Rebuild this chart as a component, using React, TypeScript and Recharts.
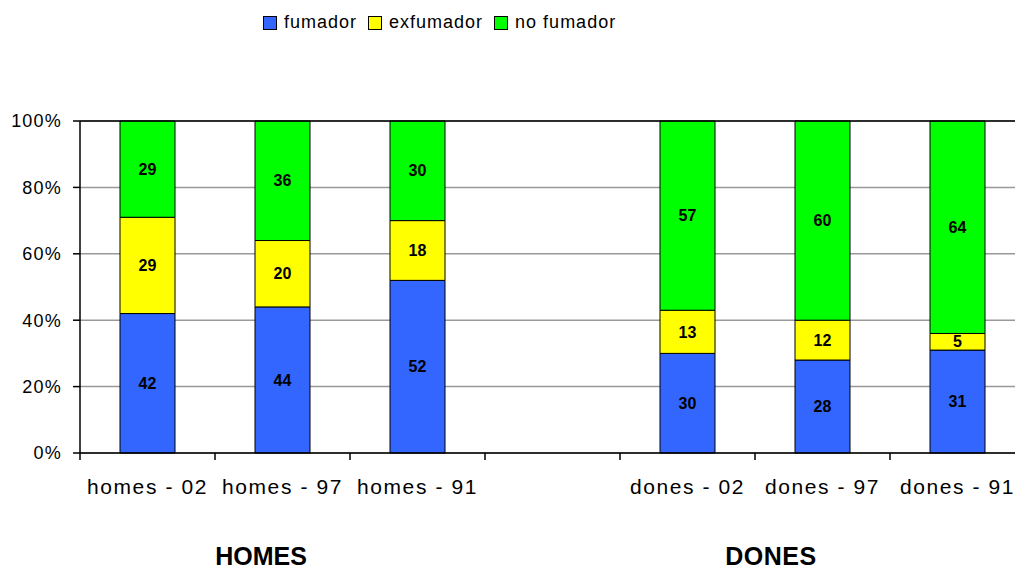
import { BarChart, Bar, XAxis, YAxis, CartesianGrid, LabelList, ReferenceLine } from "recharts";

const categories = ["homes - 02", "homes - 97", "homes - 91", "", "dones - 02", "dones - 97", "dones - 91"];
const fumador = [42, 44, 52, null, 30, 28, 31];
const exfumador = [29, 20, 18, null, 13, 12, 5];
const noFumador = [29, 36, 30, null, 57, 60, 64];
const yTicks = [0, 20, 40, 60, 80, 100];
const boundaryTicks = [0, 1, 2, 3, 4, 5, 6, 7];

const series = [
  { key: "fumador", name: "fumador", color: "#3366FF" },
  { key: "exfumador", name: "exfumador", color: "#FFFF00" },
  { key: "noFumador", name: "no fumador", color: "#00FF00" },
];

const data = categories.map((name, i) => ({
  name,
  fumador: fumador[i],
  exfumador: exfumador[i],
  noFumador: noFumador[i],
}));

const FONT = '"Liberation Sans", Arial, sans-serif';
const NARROW = '"Liberation Sans Narrow", "Arial Narrow", "Liberation Sans", sans-serif';

function TopLegend() {
  return (
    <div
      style={{
        position: "absolute",
        top: 12,
        left: 263,
        display: "flex",
        alignItems: "center",
        fontFamily: FONT,
        fontSize: 18,
        letterSpacing: 1,
        color: "#000",
        whiteSpace: "nowrap",
      }}
    >
      {series.map((s) => (
        <div key={s.key} style={{ display: "flex", alignItems: "center", marginRight: 11 }}>
          <span
            style={{
              display: "inline-block",
              width: 12,
              height: 12,
              background: s.color,
              border: "1px solid #000",
              marginRight: 7,
            }}
          />
          {s.name}
        </div>
      ))}
    </div>
  );
}

export default function App() {
  return (
    <div
      style={{
        position: "absolute",
        left: 0,
        top: 0,
        width: 1015,
        height: 571,
        overflow: "hidden",
        background: "#fff",
        fontFamily: FONT,
      }}
    >
      <TopLegend />
      <BarChart
        width={1030}
        height={571}
        data={data}
        margin={{ top: 121, right: 5, left: 0, bottom: 57 }}
        barSize={55}
      >
        <CartesianGrid vertical={false} stroke="#999" strokeWidth={1.5} />
        <XAxis
          xAxisId="b"
          type="number"
          dataKey={() => 0}
          domain={[0, 7]}
          ticks={boundaryTicks}
          height={1}
          axisLine={{ stroke: "#000", strokeWidth: 1.5 }}
          tickLine={{ stroke: "#000", strokeWidth: 1.5 }}
          tickSize={7}
          tick={() => <g />}
          allowDataOverflow
        />
        <XAxis
          xAxisId="cat"
          dataKey="name"
          height={60}
          interval={0}
          axisLine={false}
          tickLine={false}
          tickSize={0}
          tickMargin={25}
          tick={{ fill: "#000", fontSize: 21, letterSpacing: 1.6, fontFamily: FONT }}
        />
        <YAxis
          domain={[0, 100]}
          ticks={yTicks}
          width={80}
          tickFormatter={(v) => `${v}%`}
          axisLine={{ stroke: "#000", strokeWidth: 1.5 }}
          tickLine={{ stroke: "#000", strokeWidth: 1.5 }}
          tickSize={7}
          tickMargin={11}
          tick={{ fill: "#000", fontSize: 18, letterSpacing: 1.2, fontFamily: FONT }}
        />
        <ReferenceLine y={100} xAxisId="cat" stroke="#000" strokeWidth={1.5} />
        {series.map((s) => (
          <Bar
            key={s.key}
            xAxisId="cat"
            dataKey={s.key}
            name={s.name}
            stackId="a"
            fill={s.color}
            stroke="#000"
            strokeWidth={1}
            isAnimationActive={false}
          >
            <LabelList
              dataKey={s.key}
              position="center"
              fill="#000"
              fontSize={16}
              fontWeight="bold"
              fontFamily={NARROW}
            />
          </Bar>
        ))}
      </BarChart>
      <div
        style={{
          position: "absolute",
          top: 542,
          left: 161,
          width: 200,
          textAlign: "center",
          fontSize: 25,
          fontWeight: "bold",
          color: "#000",
        }}
      >
        HOMES
      </div>
      <div
        style={{
          position: "absolute",
          top: 542,
          left: 671,
          width: 200,
          textAlign: "center",
          fontSize: 25,
          fontWeight: "bold",
          letterSpacing: 0.5,
          color: "#000",
        }}
      >
        DONES
      </div>
    </div>
  );
}
